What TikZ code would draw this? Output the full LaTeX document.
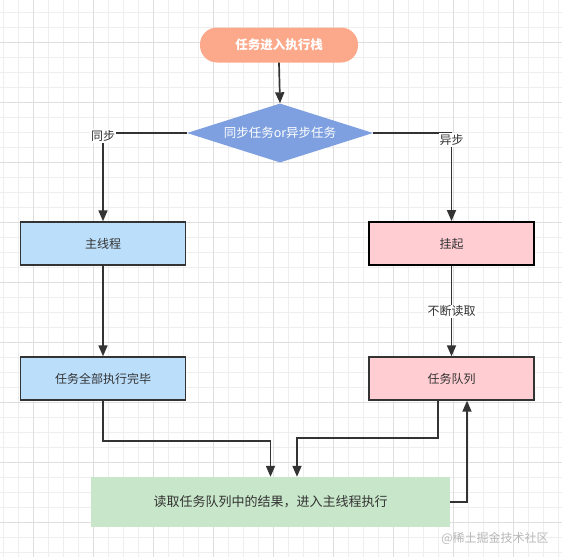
\documentclass[tikz,border=0pt]{standalone}
\usepackage{fontspec}
\setmainfont{Noto Sans CJK SC}
\usepackage{xcolor}
\usetikzlibrary{arrows.meta,shapes.geometric}
\definecolor{inicio}{RGB}{252,169,139}
\definecolor{decision}{RGB}{126,160,224}
\definecolor{hilo}{RGB}{187,222,251}
\definecolor{espera}{RGB}{255,205,210}
\definecolor{final}{RGB}{200,230,201}
\definecolor{trazo}{RGB}{51,51,51}
\definecolor{rejilla}{RGB}{238,238,238}
\definecolor{rejillamayor}{RGB}{222,222,222}

\tikzset{
  caja/.style={draw=trazo, line width=1.4pt, minimum width=165pt, minimum height=43pt,
    inner sep=0pt, font=\fontsize{12}{14}\selectfont, text=trazo},
  flecha/.style={draw=trazo, line width=1.7pt, -{Triangle[length=11pt,width=9pt]}},
  etiqueta/.style={fill=white, inner sep=1pt, font=\fontsize{12}{14}\selectfont, text=trazo}
}

\begin{document}
\begin{tikzpicture}[x=1pt, y=-1pt]
  \useasboundingbox (0,0) rectangle (562,557);
  \fill[white] (0,0) rectangle (562,557);
  % rejilla de fondo
  \foreach \x in {3,18,...,558} \draw[rejilla, line width=0.6pt] (\x,0) -- (\x,557);
  \foreach \y in {12,27,...,552} \draw[rejilla, line width=0.6pt] (0,\y) -- (562,\y);
  \foreach \x in {33,93,...,513} \draw[rejillamayor, line width=0.7pt] (\x,0) -- (\x,557);
  \foreach \y in {42,102,...,522} \draw[rejillamayor, line width=0.7pt] (0,\y) -- (562,\y);

  % nodos
  \node[fill=inicio, rounded corners=17pt, minimum width=158pt, minimum height=35pt,
    font=\fontsize{12.5}{14}\selectfont\bfseries, text=white] (entrada) at (279,45) {任务进入执行栈};
  \node[diamond, aspect=3.15, fill=decision, minimum width=186pt, minimum height=59pt, inner sep=0pt,
    font=\fontsize{12.5}{14}\selectfont, text=white] (tipo) at (280,133) {同步任务or异步任务};
  \node[caja, fill=hilo] (principal) at (103,243.5) {主线程};
  \node[caja, fill=espera, draw=black, line width=1.9pt] (suspender) at (451.5,243.5) {挂起};
  \node[caja, fill=hilo] (terminado) at (103,378.5) {任务全部执行完毕};
  \node[caja, fill=espera] (cola) at (451.5,378.5) {任务队列};
  \node[fill=final, minimum width=359pt, minimum height=50pt, inner sep=0pt,
    font=\fontsize{13}{15}\selectfont, text=trazo] (resultado) at (270.5,502) {读取任务队列中的结果，进入主线程执行};

  % conexiones
  \draw[flecha] (entrada.south) -- (tipo.north);
  \draw[flecha] (tipo.west) -| (principal.north) node[etiqueta, pos=0.5, yshift=-3pt] {同步};
  \draw[flecha] (tipo.east) -| (suspender.north) node[etiqueta, pos=0.5, yshift=-7pt] {异步};
  \draw[flecha] (principal.south) -- (terminado.north);
  \draw[flecha] (suspender.south) -- (cola.north) node[etiqueta, midway] {不断读取};
  \draw[flecha] (terminado.south) -- ++(0,40) -| (resultado.north);
  \draw[flecha] ([xshift=-13.5pt]cola.south) -- ++(0,37) -| ([xshift=26.5pt]resultado.north);
  \draw[flecha] (resultado.east) -| ([xshift=15.5pt]cola.south);

  \node[font=\fontsize{12}{14}\selectfont, text=black!28] (marca) at (495,538) {@稀土掘金技术社区};
\end{tikzpicture}
\end{document}
